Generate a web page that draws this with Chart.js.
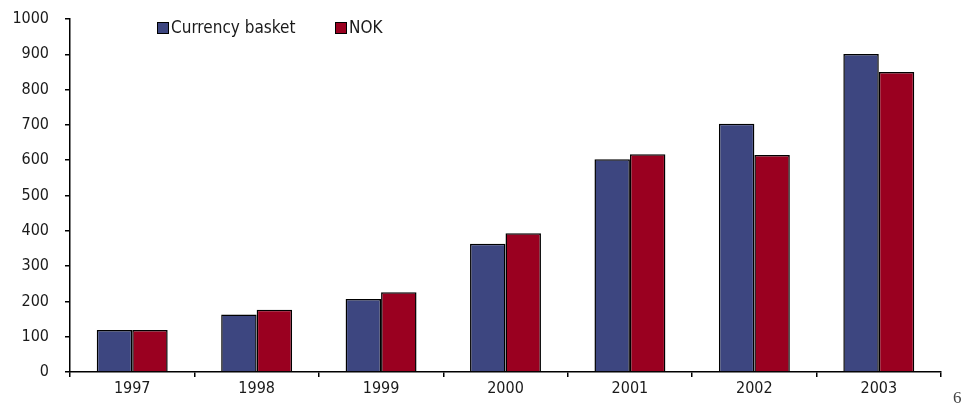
<!DOCTYPE html>
<html>
<head>
<meta charset="utf-8">
<script src="https://cdn.jsdelivr.net/npm/chart.js@4/dist/chart.umd.min.js"></script>
<style>
  html, body { margin: 0; padding: 0; background: #fff; }
  #wrap { position: relative; width: 964px; height: 405px; }
  #legend { position: absolute; top: 17px; left: 157px; font: 17px "DejaVu Sans Condensed", "Liberation Sans", sans-serif; color: #1a1a1a; }
  #legend span.item { position: absolute; white-space: nowrap; }
  #legend i { display: inline-block; width: 10px; height: 10px; border: 1px solid #000; vertical-align: -1px; margin-right: 2px; }
  #pageNo { position: absolute; left: 953px; top: 388px; font: 17px "Liberation Serif", serif; color: #444; }
</style>
</head>
<body>
<div id="wrap">
  <canvas id="chart" width="964" height="405"></canvas>
  <div id="legend">
    <span class="item" style="left:0"><i style="background:#3d4680"></i>Currency basket</span>
    <span class="item" style="left:178px"><i style="background:#9a0020"></i>NOK</span>
  </div>
  <div id="pageNo">6</div>
</div>
<script>
// Datos del gráfico
const years = ['1997', '1998', '1999', '2000', '2001', '2002', '2003'];
const basketValues = [119, 163, 207, 363, 603, 703, 901];
const nokValues = [119, 176, 226, 393, 617, 615, 850];
const yTicks = [0, 100, 200, 300, 400, 500, 600, 700, 800, 900, 1000];

const tickFont = { family: '"DejaVu Sans Condensed", "Liberation Sans", sans-serif', size: 16 };

new Chart(document.getElementById('chart'), {
  type: 'bar',
  data: {
    labels: years,
    datasets: [
      {
        label: 'Currency basket',
        data: basketValues,
        backgroundColor: '#3d4680',
        borderColor: '#000',
        borderWidth: 1.5
      },
      {
        label: 'NOK',
        data: nokValues,
        backgroundColor: '#9a0020',
        borderColor: '#000',
        borderWidth: 1.5
      }
    ]
  },
  options: {
    responsive: false,
    animation: false,
    datasets: { bar: { categoryPercentage: 0.57, barPercentage: 1 } },
    layout: { padding: { top: 19, right: 23, bottom: 0, left: 0 } },
    plugins: { legend: { display: false }, tooltip: { enabled: false } },
    scales: {
      x: {
        offset: true,
        grid: { drawOnChartArea: false, drawTicks: true, tickLength: 5, color: '#000', lineWidth: 1.5 },
        border: { display: true, color: '#000', width: 1.5 },
        ticks: { color: '#1a1a1a', font: tickFont, padding: 2 },
        afterFit: s => { s.height = 33; }
      },
      y: {
        min: 0,
        max: 1000,
        afterBuildTicks: s => { s.ticks = yTicks.map(v => ({ value: v })); },
        grid: { drawOnChartArea: false, drawTicks: true, tickLength: 5, color: '#000', lineWidth: 1.5 },
        border: { display: true, color: '#000', width: 1.5 },
        ticks: { color: '#1a1a1a', font: tickFont, padding: 16, callback: v => String(v) },
        afterFit: s => { s.width = 70; s.paddingTop = 0; s.paddingBottom = 0; }
      }
    }
  }
});
</script>
</body>
</html>
